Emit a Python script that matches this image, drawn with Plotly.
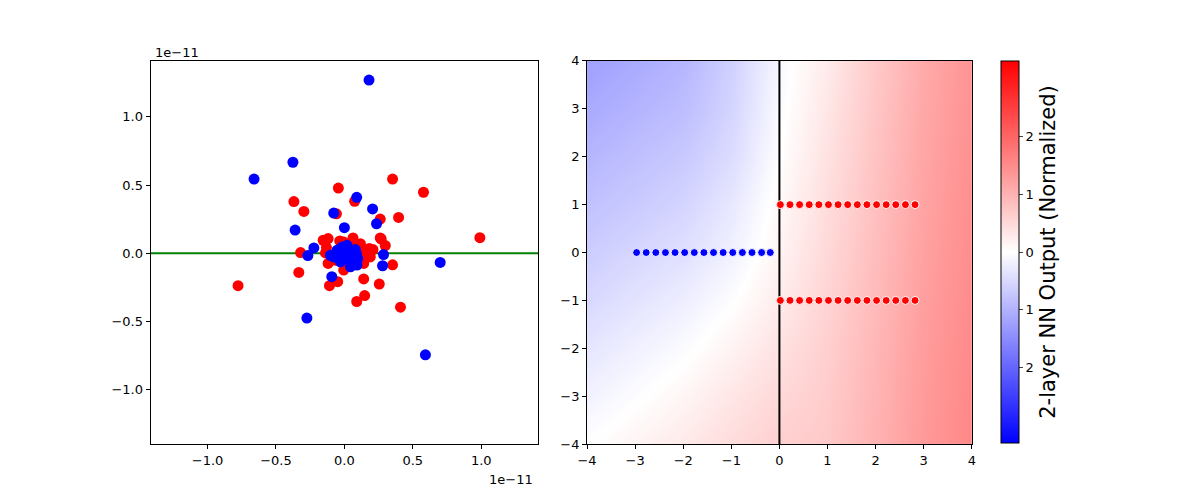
import plotly.graph_objects as go

# left panel, values in units of 1e-11
red_x = [0.352, -0.044, -0.369, 0.075, -0.296, 0.396, 0.262, -0.058, 0.262, -0.155,
         -0.119, 0.063, -0.034, 0.117, -0.131, -0.32, 0.153, 0.209, 0.182, 0.299,
         -0.333, -0.119, 0.352, 0.141, -0.005, 0.141, -0.049, -0.109, 0.255, 0.148,
         0.09, 0.41, 0.578, 0.99, -0.777, 0.269, 0.129, 0.019, -0.065, 0.056,
         0.189, -0.138, -0.005, 0.035, 0.11]
red_y = [0.544, 0.478, 0.379, 0.381, 0.306, 0.262, 0.25, 0.289, 0.112, 0.095,
         0.107, 0.112, 0.09, 0.07, 0.041, 0.005, 0.027, 0.027, 0.034, 0.056,
         -0.141, -0.075, -0.085, -0.075, -0.124, -0.189, -0.209, -0.238, -0.226, -0.311,
         -0.354, -0.396, 0.447, 0.114, -0.238, 0.104, -0.015, -0.002, -0.051, 0.082,
         -0.027, 0.002, 0.082, -0.06, 0.01]
blue_x = [0.18, -0.376, -0.66, 0.09, 0.206, -0.078, 0.235, 0.0, -0.36, -0.223,
          -0.267, 0.286, 0.279, 0.70, -0.092, -0.274, 0.592, -0.053, -0.017, 0.019,
          0.007, -0.041, -0.078, -0.029, 0.044, 0.092, 0.087, 0.08, 0.097, -0.102,
          0.019, 0.056]
blue_y = [1.27, 0.667, 0.544, 0.41, 0.325, 0.294, 0.216, 0.187, 0.17, 0.039,
          -0.017, -0.01, -0.092, -0.068, -0.172, -0.476, -0.745, 0.022, 0.046, 0.058,
          -0.002, -0.015, -0.027, -0.063, -0.1, -0.087, -0.002, 0.027, -0.039, -0.015,
          -0.039, -0.027]

# right panel
grid_x = [-4, -3, -2, -1, 0, 1, 2, 3, 4]
grid_y = [-4, -3, -2, -1, 0, 1, 2, 3, 4]
nn_out = [
    [0.00, 0.14, 0.28, 0.45, 0.62, 0.70, 1.00, 1.32, 1.55],
    [-0.17, -0.03, 0.12, 0.32, 0.50, 0.66, 0.97, 1.30, 1.54],
    [-0.33, -0.19, -0.05, 0.15, 0.38, 0.62, 0.94, 1.28, 1.52],
    [-0.50, -0.36, -0.22, -0.02, 0.25, 0.56, 0.90, 1.25, 1.50],
    [-0.65, -0.52, -0.40, -0.18, 0.15, 0.50, 0.86, 1.22, 1.48],
    [-0.80, -0.68, -0.55, -0.30, 0.08, 0.44, 0.82, 1.19, 1.46],
    [-0.95, -0.82, -0.70, -0.45, 0.00, 0.38, 0.78, 1.16, 1.44],
    [-1.10, -0.97, -0.85, -0.55, -0.05, 0.32, 0.74, 1.13, 1.42],
    [-1.23, -1.10, -0.95, -0.60, -0.10, 0.26, 0.70, 1.10, 1.40],
]
neg_x = [-2.97, -2.77, -2.57, -2.37, -2.17, -1.97, -1.77, -1.57, -1.37, -1.17,
         -0.97, -0.77, -0.57, -0.37, -0.19]
neg_y = [0] * 15
pos_x = [0.02, 0.22, 0.42, 0.62, 0.82, 1.02, 1.22, 1.42, 1.62, 1.82,
         2.02, 2.22, 2.42, 2.62, 2.82]
pos_y_top = [1] * 15
pos_y_bot = [-1] * 15

bwr = [[0, "rgb(0,0,255)"], [0.5, "rgb(255,255,255)"], [1, "rgb(255,0,0)"]]
font = dict(family="DejaVu Sans", size=13, color="black")

fig = go.Figure()

# left: scatter
fig.add_trace(go.Scatter(x=[-1.5, 1.5], y=[0, 0], mode="lines",
                         line=dict(color="green", width=2), xaxis="x", yaxis="y"))
fig.add_trace(go.Scatter(x=red_x, y=red_y, mode="markers",
                         marker=dict(color="red", size=11), xaxis="x", yaxis="y"))
fig.add_trace(go.Scatter(x=blue_x, y=blue_y, mode="markers",
                         marker=dict(color="blue", size=11), xaxis="x", yaxis="y"))

# right: nn output field
fig.add_trace(go.Contour(
    x=grid_x, y=grid_y, z=nn_out, colorscale=bwr, zmin=-3.3, zmax=3.3,
    contours=dict(coloring="heatmap", showlines=False), line=dict(width=0),
    xaxis="x2", yaxis="y2",
    colorbar=dict(x=0.8286, xanchor="left", xpad=0, ypad=0,
                  y=0.5113, yanchor="middle", len=0.788, lenmode="fraction",
                  thickness=18, thicknessmode="pixels",
                  outlinecolor="black", outlinewidth=1,
                  tickvals=[-2, -1, 0, 1, 2], ticktext=["2", "1", "0", "1", "2"],
                  ticks="outside", ticklen=4, tickfont=font,
                  title=dict(text="2-layer NN Output (Normalized)", side="right",
                             font=dict(family="DejaVu Sans", size=21, color="black")))))
fig.add_trace(go.Scatter(x=[0, 0], y=[-4, 4], mode="lines",
                         line=dict(color="black", width=2), xaxis="x2", yaxis="y2"))
fig.add_trace(go.Scatter(x=neg_x, y=neg_y, mode="markers",
                         marker=dict(color="blue", size=8, line=dict(color="white", width=1)),
                         xaxis="x2", yaxis="y2"))
fig.add_trace(go.Scatter(x=pos_x + pos_x, y=pos_y_top + pos_y_bot, mode="markers",
                         marker=dict(color="red", size=8, line=dict(color="white", width=1)),
                         xaxis="x2", yaxis="y2"))

ax = dict(showline=True, linecolor="black", linewidth=1, mirror=True,
          ticks="outside", ticklen=4, tickcolor="black", showgrid=False,
          zeroline=False, tickfont=font)

fig.update_layout(
    width=1200, height=500, showlegend=False,
    margin=dict(l=0, r=0, t=0, b=0),
    paper_bgcolor="white", plot_bgcolor="white",
    xaxis=dict(ax, domain=[0.1118, 0.4386], range=[-1.416, 1.416],
               tickvals=[-1, -0.5, 0, 0.5, 1], tickformat=".1f"),
    yaxis=dict(ax, domain=[0.1152, 0.9053], range=[-1.40, 1.41],
               tickvals=[-1, -0.5, 0, 0.5, 1], tickformat=".1f"),
    xaxis2=dict(ax, domain=[0.4798, 0.8042], range=[-4, 4], anchor="y2",
                tickvals=[-4, -3, -2, -1, 0, 1, 2, 3, 4]),
    yaxis2=dict(ax, domain=[0.1152, 0.9053], range=[-4, 4], anchor="x2",
                tickvals=[-4, -3, -2, -1, 0, 1, 2, 3, 4]),
    annotations=[
        dict(text="1e\u221211", x=0.1135, y=0.9218, xref="paper", yref="paper",
             xanchor="left", yanchor="middle", showarrow=False, font=font),
        dict(text="1e\u221211", x=0.4362, y=0.0432, xref="paper", yref="paper",
             xanchor="right", yanchor="middle", showarrow=False, font=font),
    ],
)

fig.write_html("out.html")
